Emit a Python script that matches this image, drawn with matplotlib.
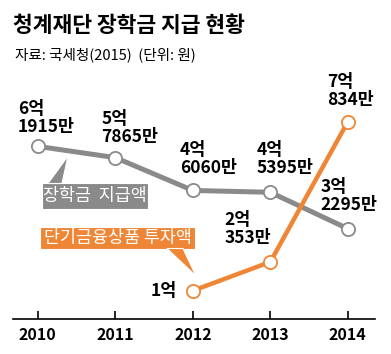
import matplotlib
matplotlib.use("Agg")
import matplotlib.pyplot as plt
from matplotlib.patches import Polygon

FONTS = ["Liberation Sans Narrow", "Noto Sans CJK KR", "DejaVu Sans"]
plt.rcParams["font.family"] = FONTS

years = [2010, 2011, 2012, 2013, 2014]
scholarship = [6.1915, 5.7865, 4.6060, 4.5395, 3.2295]   # 억 원
invest_years = [2012, 2013, 2014]
investment = [1.0, 2.0353, 7.0834]                       # 억 원

scholarship_labels = ["6억\n1915만", "5억\n7865만", "4억\n6060만", "4억\n5395만", "3억\n2295만"]
investment_labels = ["1억", "2억\n353만", "7억\n834만"]

GRAY = "#8a8a8a"
ORANGE = "#ef8636"

W, H = 391, 354
fig = plt.figure(figsize=(W / 100, H / 100), dpi=100)
ax = fig.add_axes([13 / W, (H - 318.5) / H, 362 / W, 258 / H])

ax.plot(years, scholarship, color=GRAY, lw=3.6, marker="o", ms=9.5,
        mfc="white", mec=GRAY, mew=1.3, zorder=3)
ax.plot(invest_years, investment, color=ORANGE, lw=3.2, marker="o", ms=9.5,
        mfc="white", mec=ORANGE, mew=1.3, zorder=4)

ax.set_xlim(2009.68, 2014.35)
ax.set_ylim(0, 258 / 27.8)

# value labels, offsets in pixels from each point
gray_off = [(-20, 10), (-14, 12), (-13, 13), (-14, 15), (-27, 15)]
for x, y, s, (dx, dy) in zip(years, scholarship, scholarship_labels, gray_off):
    ax.annotate(s, (x, y), xytext=(dx, dy), textcoords="offset pixels",
                ha="left", va="bottom", fontsize=12.5, fontweight="bold",
                linespacing=1.0)

orange_off = [(-16, 0), (-46, 15), (-21, 13)]
for x, y, s, (dx, dy) in zip(invest_years, investment, investment_labels, orange_off):
    ax.annotate(s, (x, y), xytext=(dx, dy), textcoords="offset pixels",
                ha="right" if "\n" not in s else "left",
                va="center" if "\n" not in s else "bottom",
                fontsize=12.5, fontweight="bold", linespacing=1.0)

# callout boxes (figure pixel coordinates, y from top)
def px(x, y):
    return (x / W, 1 - y / H)

def callout(box, tri, color, text):
    x0, y0, x1, y1 = box
    fig.patches.append(Polygon([px(x0, y0), px(x1, y0), px(x1, y1), px(x0, y1)],
                               closed=True, transform=fig.transFigure,
                               fc=color, ec="white", lw=0.8, zorder=5))
    fig.patches.append(Polygon([px(*p) for p in tri], closed=True,
                               transform=fig.transFigure, fc=color, ec="white",
                               lw=0.8, zorder=5))
    fig.text((x0 + x1) / 2 / W, 1 - (y0 + y1) / 2 / H, text, color="white",
             ha="center", va="center", fontsize=12.5,
             family="Noto Sans CJK KR", zorder=6)

callout((42, 183, 148, 209), [(48, 183.5), (62, 183.5), (68, 156)], GRAY, "장학금  지급액")
callout((40, 227, 195, 249), [(167, 248.5), (183, 248.5), (196, 276)], ORANGE, "단기금융상품 투자액")

for side in ["left", "right", "top"]:
    ax.spines[side].set_visible(False)
ax.spines["bottom"].set_linewidth(1.2)
ax.set_yticks([])
ax.set_xticks(years)
ax.set_xticklabels([str(y) for y in years], fontsize=11.5, fontweight="bold")
ax.tick_params(axis="x", direction="in", length=6, width=1.2, pad=6)

fig.text(13 / W, 1 - 25 / H, "청계재단 장학금 지급 현황", fontsize=15.5,
         fontweight="heavy", family="Noto Sans CJK KR", va="center")
fig.text(15 / W, 1 - 55 / H, "자료: 국세청(2015)  (단위: 원)", fontsize=10.5,
         va="center")

fig.savefig("out.png", dpi=100)
